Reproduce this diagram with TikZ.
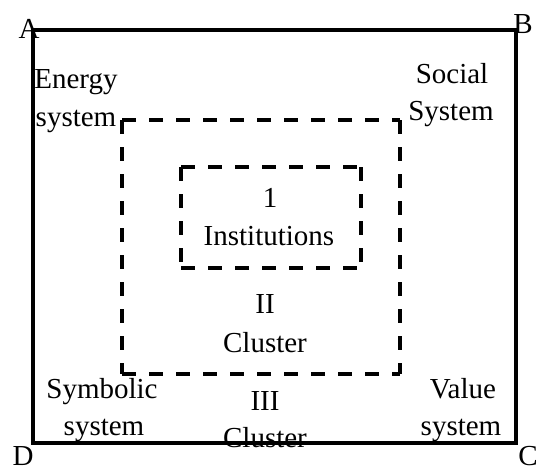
\documentclass[tikz,border=0pt]{standalone}
\usepackage{fontspec}
\setmainfont{Liberation Serif}
\begin{document}
\begin{tikzpicture}[x=1pt,y=-1pt,
  lbl/.style={inner sep=0pt,anchor=base,font=\fontsize{29}{36}\selectfont},
  outerbox/.style={line width=3.6pt},
  dashbox/.style={line width=3.2pt,dash pattern=on 14pt off 13pt}]
\useasboundingbox (0,0) rectangle (538,472);
\draw[outerbox] (33,30) rectangle (516,443);
\draw[dashbox] (122,120) -- (400,120);
\draw[dashbox] (122,120) -- (122,374);
\draw[dashbox] (122,374) -- (400,374);
\draw[dashbox] (400,120) -- (400,374);
\draw[dashbox] (181,167) -- (361,167);
\draw[dashbox] (181,167) -- (181,268);
\draw[dashbox] (181,268) -- (361,268);
\draw[dashbox] (361,167) -- (361,268);
\node[lbl] (A) at (29,38) {A};
\node[lbl] (B) at (523,33) {B};
\node[lbl] (C) at (528,465) {C};
\node[lbl] (D) at (23,465) {D};
\node[lbl] (en1) at (76,88) {Energy};
\node[lbl] (en2) at (76,126) {system};
\node[lbl] (so1) at (452,83) {Social};
\node[lbl] (so2) at (451,120) {System};
\node[lbl] (sy1) at (102,398) {Symbolic};
\node[lbl] (sy2) at (104,435) {system};
\node[lbl] (va1) at (463,398) {Value};
\node[lbl] (va2) at (461,435) {system};
\node[lbl] (in1) at (270,207) {1};
\node[lbl] (in2) at (269,245) {Institutions};
\node[lbl] (c21) at (265,313) {II};
\node[lbl] (c22) at (265,352) {Cluster};
\node[lbl] (c31) at (265,410) {III};
\node[lbl] (c32) at (265,447) {Cluster};
\end{tikzpicture}
\end{document}
